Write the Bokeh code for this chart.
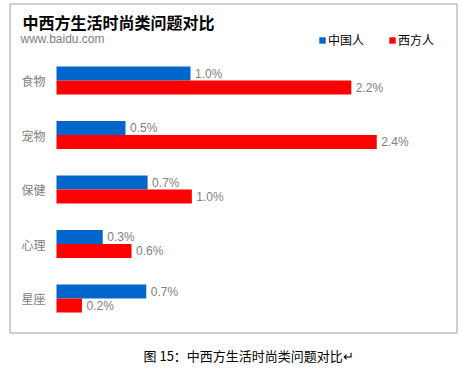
from bokeh.plotting import figure
from bokeh.models import ColumnDataSource, Range1d, Legend, LegendItem
from bokeh.transform import dodge
from bokeh.core.properties import value
from bokeh.embed import file_html
from bokeh.resources import INLINE

# ---- data (bar lengths; labels shown to 1 decimal) ----
categories = ["食物", "宠物", "保健", "心理", "星座"]
china = [1.0, 0.515, 0.68, 0.345, 0.67]
west = [2.2, 2.39, 1.01, 0.56, 0.19]
series_names = ["中国人", "西方人"]
title_text = "中西方生活时尚类问题对比"
subtitle_text = "www.baidu.com"
caption_text = "图 15：中西方生活时尚类问题对比↵"

# ---- layout constants (pixels inside the figure) ----
W, H = 462, 368
X0, SX = 56.0, 134.0      # x pixel of 0%, pixels per 1%
Y0, SY = 80.0, 54.5       # y pixel of first row centre, pixels per row
BAR_H = 14.0

def dx(fx):
    return (fx - X0) / SX

def dy(fy):
    return (fy - Y0) / SY

CJK_NAME = "Noto Sans CJK SC"
CJK = value(CJK_NAME)
LAT = value("Liberation Sans")
BLUE, RED, GRAY = "#0066CC", "#FF0000", "#808080"

p = figure(width=W, height=H, output_backend="svg", toolbar_location=None,
           x_range=Range1d(dx(0), dx(W)), y_range=Range1d(dy(H), dy(0)),
           x_axis_location=None, y_axis_location=None, min_border=0,
           tools="")
p.grid.visible = False
p.outline_line_color = None
p.background_fill_color = "white"
p.border_fill_color = "white"

src = ColumnDataSource(dict(
    cat=categories,
    row=list(range(len(categories))),
    china=china,
    west=west,
    china_lbl=[f"{v:.1f}%" for v in china],
    west_lbl=[f"{v:.1f}%" for v in west],
))

off = (BAR_H / 2) / SY
hh = BAR_H / SY

# chart frame box
p.quad(left=[dx(9.5)], right=[dx(456.5)], top=[dy(3.5)], bottom=[dy(332.5)],
       fill_color=None, line_color="#a0a0a0", line_width=1)

rb = p.hbar(y=dodge("row", -off, range=p.y_range), left=0, right="china",
            height=hh, fill_color=BLUE, line_color=None, source=src)
rr = p.hbar(y=dodge("row", off, range=p.y_range), left=0, right="west",
            height=hh, fill_color=RED, line_color=None, source=src)

# value labels
p.text(x=dodge("china", 4.5 / SX, range=p.x_range), y=dodge("row", -off, range=p.y_range),
       text="china_lbl", text_font=LAT, text_font_size="12px", text_color=GRAY,
       text_baseline="middle", text_align="left", source=src)
p.text(x=dodge("west", 4.5 / SX, range=p.x_range), y=dodge("row", off, range=p.y_range),
       text="west_lbl", text_font=LAT, text_font_size="12px", text_color=GRAY,
       text_baseline="middle", text_align="left", source=src)

# category labels
p.text(x=dx(45), y="row", text="cat", text_font=CJK, text_font_size="12px",
       text_color=GRAY, text_baseline="middle", text_align="right", source=src)

# title, subtitle, caption
p.text(x=[dx(22)], y=[dy(21)], text=[title_text], text_font=CJK, text_font_size="16px",
       text_font_style="bold", text_color="black", text_baseline="middle")
p.text(x=[dx(20)], y=[dy(38)], text=[subtitle_text], text_font=LAT, text_font_size="12px",
       text_color=GRAY, text_baseline="middle")
p.text(x=[dx(143)], y=[dy(355)], text=[caption_text], text_font=CJK, text_font_size="13px",
       text_color="black", text_baseline="middle")

legend = Legend(items=[LegendItem(label=series_names[0], renderers=[rb]),
                       LegendItem(label=series_names[1], renderers=[rr])],
                orientation="horizontal", location=(318, H - 48),
                glyph_width=8, glyph_height=8, label_standoff=2, spacing=24,
                padding=0, margin=0, border_line_color=None, background_fill_alpha=0,
                label_text_font=CJK_NAME, label_text_font_size="12px",
                label_text_color="black", label_height=8)
p.add_layout(legend)

open("out.html", "w").write(file_html(p, INLINE))
